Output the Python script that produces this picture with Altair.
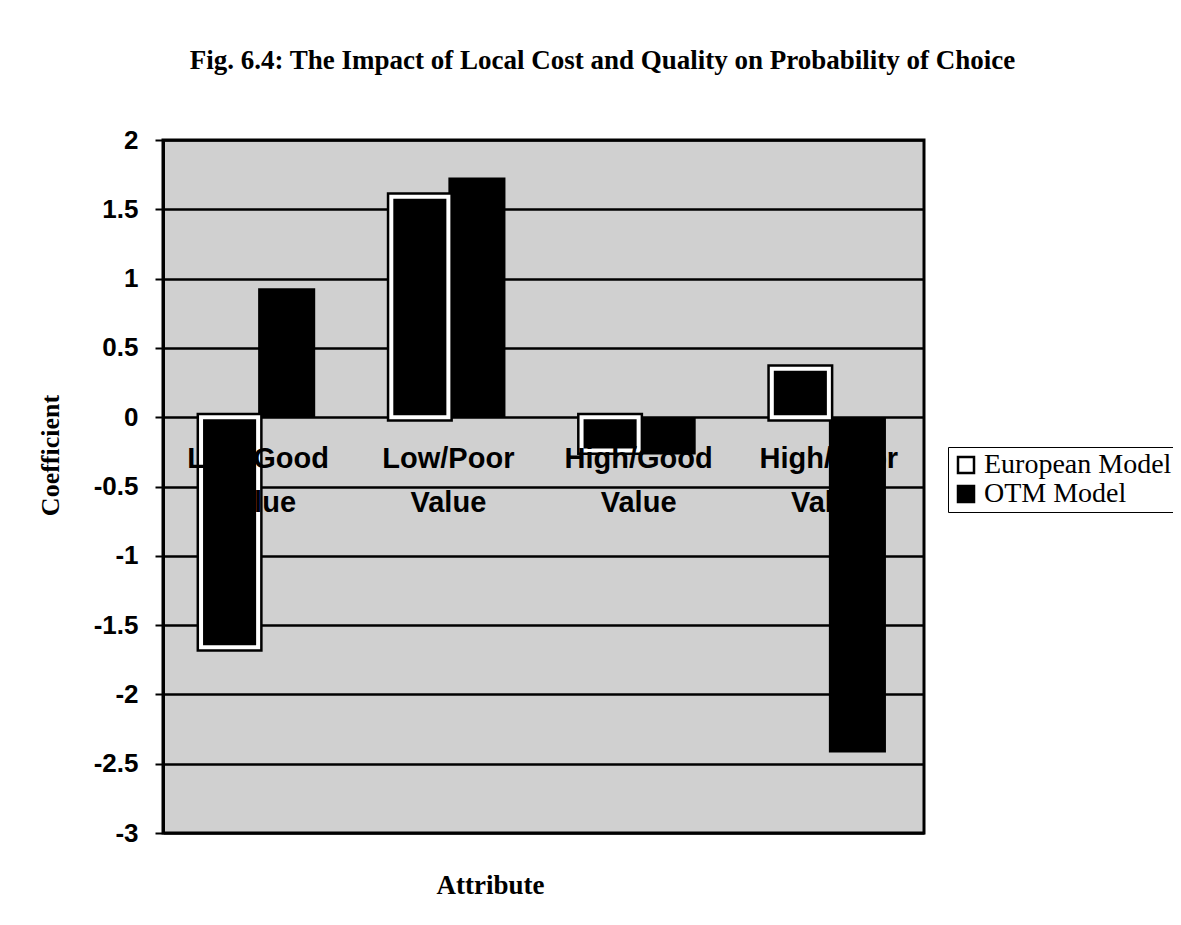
import altair as alt
import pandas as pd

categories = ["Low/Good Value", "Low/Poor Value", "High/Good Value", "High/Poor Value"]
series = ["European Model", "OTM Model"]
european = [-1.66, 1.59, -0.24, 0.35]
otm = [0.93, 1.73, -0.27, -2.42]
y_ticks = [2, 1.5, 1, 0.5, 0, -0.5, -1, -1.5, -2, -2.5, -3]

rows = []
for c, e, o in zip(categories, european, otm):
    rows.append({"Attribute": c, "Model": series[0], "Coefficient": e})
    rows.append({"Attribute": c, "Model": series[1], "Coefficient": o})
df = pd.DataFrame(rows)

x_enc = alt.X(
    "Attribute:N",
    sort=categories,
    scale=alt.Scale(domain=categories, paddingInner=0.4, paddingOuter=0.2),
    axis=alt.Axis(
        title="Attribute",
        orient="bottom",
        offset=-416,
        domain=False,
        ticks=False,
        labelExpr="split(datum.label, ' ')",
        labelAngle=0,
        labelFont="Liberation Sans",
        labelFontWeight="bold",
        labelFontSize=29,
        labelColor="black",
        labelPadding=27,
        labelLineHeight=44,
        titleFont="Liberation Serif",
        titleFontWeight="bold",
        titleFontSize=27,
        titleColor="black",
        titleX=327,
        titleY=468,
        titleBaseline="middle",
        zindex=1,
    ),
)
xoff_enc = alt.XOffset("Model:N", sort=series,
                       scale=alt.Scale(domain=series, paddingInner=0, paddingOuter=0))
y_enc = alt.Y(
    "Coefficient:Q",
    scale=alt.Scale(domain=[-3, 2], nice=False, zero=False),
    axis=alt.Axis(
        values=y_ticks,
        labelExpr="'' + datum.value",
        title="Coefficient",
        titleFont="Liberation Serif",
        titleFontSize=26,
        titleFontWeight="bold",
        titleColor="black",
        titleX=-113,
        titleY=315,
        titleAngle=270,
        titleBaseline="middle",
        labelFont="Liberation Sans",
        labelFontWeight="bold",
        labelFontSize=26,
        labelColor="black",
        labelPadding=17,
        tickSize=8,
        tickColor="black",
        tickWidth=2,
        domainColor="black",
        domainWidth=3,
        gridColor="black",
        gridWidth=2.5,
        gridOpacity=1,
    ),
)

base = alt.Chart(df)

bars = base.mark_bar(stroke="black").encode(
    x=x_enc,
    xOffset=xoff_enc,
    y=y_enc,
    fill=alt.Fill(
        "Model:N",
        scale=alt.Scale(domain=series, range=["white", "black"]),
        legend=alt.Legend(
            title=None,
            orient="none",
            legendX=785,
            legendY=307,
            symbolType="square",
            symbolSize=256,
            symbolStrokeColor="black",
            symbolStrokeWidth=2.5,
            labelFont="Liberation Serif",
            labelFontSize=28,
            labelColor="black",
            labelOffset=4,
            labelLimit=0,
            strokeColor="black",
            fillColor="white",
            padding=4,
            rowPadding=1,
        ),
    ),
    strokeWidth=alt.condition("datum.Model == 'European Model'", alt.value(9), alt.value(0)),
)

inner = base.transform_filter("datum.Model == 'European Model'").mark_bar(
    fill="black", stroke="white", strokeWidth=4
).encode(x=x_enc, xOffset=xoff_enc, y=y_enc)

chart = alt.layer(bars, inner).properties(
    width=761,
    height=693,
    background="white",
    autosize=alt.AutoSizeParams(type="none"),
    padding={"left": 155, "top": 132, "right": 249, "bottom": 80},
    title=alt.TitleParams(
        "Fig. 6.4: The Impact of Local Cost and Quality on Probability of Choice",
        font="Liberation Serif",
        fontSize=27,
        fontWeight="bold",
        color="black",
        anchor="middle",
        dx=59,
        offset=31,
        baseline="alphabetic",
    ),
).configure_view(
    stroke="black", strokeWidth=3, fill="#d0d0d0"
)

chart.save("out.html", embed_options={"renderer": "svg", "actions": False})
